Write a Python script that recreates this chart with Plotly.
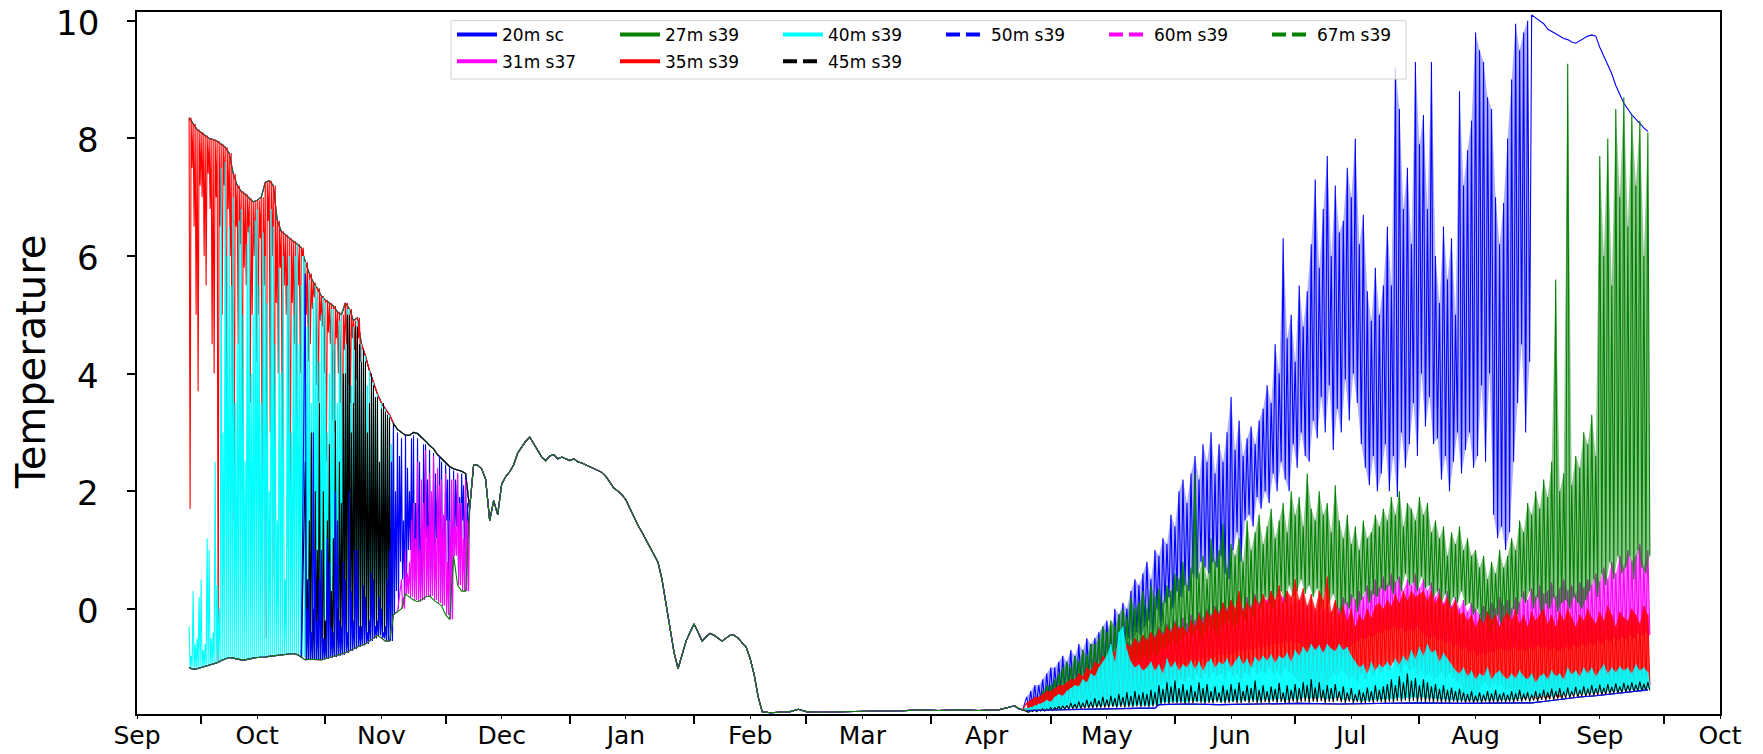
import pandas as pd
import plotly.graph_objects as go

START = pd.Timestamp("2018-09-01")

# ---------------- data (day offsets from 2018-09-01) ----------------
# Autumn envelopes, daily, days 13..82
fall_top = [8.35, 8.25, 8.15, 8.10, 8.05, 8.00, 7.98, 7.95, 7.90, 7.85,
            7.75, 7.40, 7.20, 7.10, 7.05, 6.98, 6.92, 6.95, 7.00, 7.25,
            7.28, 7.20, 6.60, 6.42, 6.36, 6.30, 6.25, 6.20, 6.14, 5.90,
            5.70, 5.55, 5.45, 5.32, 5.25, 5.20, 5.15, 5.05, 5.00, 5.20,
            5.10, 4.90, 4.95, 4.50, 4.30, 4.05, 3.85, 3.65, 3.50, 3.40,
            3.30, 3.15, 3.05, 3.00, 2.95, 2.95, 3.00, 2.98, 2.92, 2.85,
            2.78, 2.72, 2.62, 2.55, 2.48, 2.42, 2.38, 2.36, 2.34, 2.30]
fall_bottom = [-1.00, -1.03, -1.02, -1.00, -0.98, -0.96, -0.94, -0.92, -0.88, -0.85,
               -0.83, -0.84, -0.86, -0.87, -0.87, -0.85, -0.84, -0.83, -0.83, -0.82,
               -0.81, -0.80, -0.80, -0.79, -0.78, -0.77, -0.76, -0.78, -0.82, -0.87,
               -0.86, -0.86, -0.87, -0.87, -0.85, -0.83, -0.82, -0.80, -0.78, -0.75,
               -0.72, -0.68, -0.65, -0.62, -0.60, -0.55, -0.50, -0.45, -0.50, -0.55,
               -0.55, -0.10, -0.05, 0.00, 0.25, 0.20, 0.15, 0.12, 0.15, 0.20,
               0.22, 0.15, 0.10, 0.05, -0.10, -0.18, 0.90, 0.40, 0.30, 0.30]

# autumn excursions, two per day
red_fall_lo = [1.7, 7.5, 6.5, 5.0, 3.7, 7.2, 7.0, 6.0, 5.5, 7.4,
               6.8, 4.5, 4.0, 7.0, -0.9, 6.5, 5.0, 7.2, 3.0, 6.8,
               6.0, 2.0, 1.5, 6.5, 4.5, 6.2, 2.0, 5.8, 5.5, 6.4,
               3.5, 5.0, 6.0, 4.2, 5.0, 6.3, 1.0, 5.5, -0.5, 6.6,
               3.0, 6.0, 0.5, 5.2, 4.0, 5.8, 2.5, 5.5, 5.0, 1.0,
               1.5, 5.2, 4.5, 3.0, 5.5, 4.0, 6.0, 5.0, 5.0, 4.2,
               4.5, 5.1, 5.3, 3.8, 3.5, 4.9, 4.8, 4.0, 2.5, 4.7,
               4.5, 3.2, 3.0, 4.6, 4.0, 3.5, 2.0, 4.4, 4.5, 3.8,
               3.5, 4.6, 4.4, 3.9, 4.6, 4.2]                       # days 13..55
cyan_fall_hi = [-0.3, -0.8, 0.3, -0.6, -0.5, 0.2, 0.5, -0.7, -0.6, 1.2,
                1.0, -0.5, -0.4, 2.5, 0.4, 0.0, 7.5, 3.0, 7.6, 6.0,
                6.5, 5.5, 7.0, 3.5, 4.5, 6.6, 6.8, 5.0, 2.5, 6.2,
                6.5, 4.0, 5.0, 6.6, 6.8, 5.5, 3.5, 6.4, 6.0, 5.2,
                2.0, 6.8, 6.5, 4.5, 1.5, 5.8, 4.0, 6.0, 0.5, 5.5,
                6.0, 3.0, 5.0, 6.0, 6.2, 4.5, 5.5, 6.0, 5.9, 4.8,
                5.6, 3.5, 5.2, 5.5, 5.4, 4.2, 5.0, 5.3, 5.2, 3.0,
                4.0, 5.1, 5.1, 4.5, 3.5, 4.9, 5.0, 4.0, 4.5, 5.1,
                5.1, 3.8, 4.8, 4.5, 4.9, 4.2, 4.5, 3.0, 4.3, 3.8,
                4.05, 2.5, 3.85, 3.5, 3.65, 2.0, 3.5, 3.2, 3.4, 1.5,
                3.3, 2.8]                                           # days 13..63
black_fall_hi = [2.5, 0.5, 1.5, 3.0, 0.0, 2.0, 1.0, 3.5, 0.5, 2.0,
                 -0.2, 1.5, 2.8, 0.3, 1.2, 3.2, 0.0, 2.5, 1.8, 4.0,
                 4.0, 5.0, 5.0, 3.0, 3.5, 4.8, 4.8, 4.5, 4.2, 4.4,
                 4.2, 3.0, 3.5, 4.0, 3.8, 3.6, 3.6, 2.5, 3.4, 3.5,
                 3.35, 3.3, 3.25, 2.0]                              # days 42..63
blue50_fall_hi = [5.7, 0.0, 0.5, -0.4, 3.0, 1.0, -0.2, 0.5, 1.0, -0.5,
                  -0.5, 1.2, 0.8, -0.3, -0.4, 2.0, 1.5, -0.2, -0.3, 0.8,
                  0.5, -0.4, 2.0, 0.3, -0.2, 1.0, 1.0, -0.3, -0.3, 0.4,
                  0.2, -0.4, -0.2, 0.6, 0.5, -0.3, -0.2, 0.2, 0.0, -0.4,
                  -0.3, 0.5, 1.0, 2.5, 3.1, 2.0, 3.0, 2.6, 2.9, 1.5,
                  2.95, 2.4, 2.0, 2.9, 2.95, 1.8, 2.9, 2.5, 1.5, 2.8,
                  2.8, 2.2, 2.7, 1.9, 2.65, 2.3, 2.0, 2.6, 2.5, 1.6,
                  2.45, 2.2, 2.4, 1.5, 2.35, 2.2, 2.3, 1.9, 2.3, 2.1,
                  2.25, 1.8]                                        # days 42..82
blue50_late_lo = [-0.1, 0.3, 0.0, 0.8, 0.5, 0.1, 0.25, 1.0, 1.0, 0.3,
                  0.2, 0.6, 0.4, 0.15, 0.15, 1.1, 1.2, 0.3, 0.2, 0.5,
                  0.3, 1.2, 0.8, 0.1, 0.05, 0.7, 1.5, -0.1, -0.18, 0.6,
                  0.9, 1.4, 0.5, 1.0, 1.5, 0.4, 0.3, 1.2]           # days 64..82
mag60_fall_hi = [0.5, 0.2, 1.0, 0.6, 0.8, 1.5, 1.8, 1.2, 2.5, 1.0,
                 2.2, 1.8, 2.7, 1.4, 2.3, 2.0, 2.6, 1.2, 2.4, 2.1,
                 2.2, 1.6, 2.3, 0.8, 1.5, 2.2, 2.2, 1.4, 2.3, 1.8,
                 1.8, 1.2, 2.2, 1.5]                                # days 66..82

# winter, all sensors together
winter_days = list(range(83, 157))
winter_vals = [1.70, 2.45, 2.44, 2.38, 2.20, 1.50, 1.84, 1.60, 2.12, 2.25,
               2.33, 2.45, 2.65, 2.75, 2.85, 2.92, 2.80, 2.70, 2.58, 2.52,
               2.60, 2.62, 2.55, 2.58, 2.55, 2.52, 2.55, 2.50, 2.48, 2.45,
               2.42, 2.38, 2.35, 2.32, 2.25, 2.15, 2.05, 2.00, 1.94, 1.85,
               1.70, 1.55, 1.42, 1.30, 1.17, 1.05, 0.92, 0.79, 0.50, 0.10,
               -0.30, -0.74, -1.02, -0.80, -0.55, -0.40, -0.26, -0.40, -0.55, -0.48,
               -0.42, -0.45, -0.50, -0.55, -0.50, -0.45, -0.45, -0.50, -0.58, -0.65,
               -0.85, -1.12, -1.50, -1.75]
floor_days = [158, 160, 163, 165, 167, 170, 175, 180, 185, 190, 195, 200, 205, 210, 215, 219, 220, 221]
floor_vals = [-1.77, -1.76, -1.75, -1.71, -1.75, -1.76, -1.75, -1.75, -1.74, -1.74,
              -1.72, -1.73, -1.72, -1.73, -1.72, -1.65, -1.70, -1.72]

# summer, daily highs / lows from day 222
blue20_hi = [-1.5, -1.4, -1.3, -1.3, -1.2, -1.1, -1.0, -1.0, -0.9, -0.8,
             -0.9, -0.7, -0.8, -0.6, -0.7, -0.5, -0.6, -0.5, -0.4, -0.3,
             -0.2, -0.4, 0.0, -0.1, 0.1, 0.0, 0.3, 0.5, 0.4, 0.6,
             0.8, 0.5, 1.0, 0.9, 1.2, 1.1, 1.6, 1.4, 2.0, 2.2,
             1.8, 2.3, 2.6, 2.2, 2.8, 2.5, 3.0, 2.3, 2.8, 2.5,
             3.0, 3.6, 2.7, 3.2, 2.6, 2.9, 3.1, 2.8, 3.2, 3.4,
             3.8, 3.5, 4.5, 4.0, 6.3, 4.6, 5.0, 4.2, 5.5, 4.8,
             5.4, 6.2, 7.3, 5.8, 6.8, 7.7, 6.0, 7.2, 6.4, 6.6,
             7.5, 7.0, 8.0, 6.2, 6.7, 5.4, 4.9, 5.8, 5.0, 5.5,
             6.5, 5.5, 9.2, 8.5, 6.8, 7.5, 6.2, 9.3, 7.9, 8.4,
             6.8, 9.3, 6.0, 5.2, 6.5, 5.6, 6.3, 5.0, 8.8, 7.2,
             7.8, 8.3, 9.8, 9.5, 9.3, 8.7, 8.5, 7.0, 6.2, 6.9,
             8.0, 9.0, 9.95, 9.5, 9.8, 10.0]
blue20_lo = [-1.7, -1.65, -1.6, -1.55, -1.6, -1.5, -1.45, -1.4, -1.4, -1.35,
             -1.3, -1.35, -1.25, -1.2, -1.25, -1.15, -1.2, -1.1, -1.05, -1.0,
             -0.95, -1.0, -0.9, -0.8, -0.6, -0.5, -0.55, -0.4, -0.45, -0.3,
             -0.2, -0.6, 0.0, -0.3, 0.1, 0.2, 0.0, 0.3, 0.2, 0.4,
             0.3, 0.6, 0.5, 0.8, 0.7, 0.6, 0.8, 0.7, 0.9, 0.6,
             0.5, 1.0, 1.3, 0.8, 1.5, 1.6, 1.4, 1.9, 1.7, 2.0,
             1.8, 2.3, 2.0, 2.5, 2.2, 2.0, 2.8, 2.4, 3.0, 2.6,
             2.5, 3.2, 2.9, 3.6, 3.0, 3.8, 2.7, 3.4, 3.0, 3.9,
             3.2, 4.0, 3.5, 2.8, 2.4, 2.1, 2.6, 2.0, 2.3, 2.8,
             2.0, 2.6, 1.9, 3.0, 2.4, 2.8, 3.5, 2.6, 4.0, 3.1,
             3.6, 2.8, 2.9, 2.2, 2.6, 2.0, 2.5, 3.0, 2.3, 2.7,
             3.0, 2.4, 2.6, 3.8, 2.5, 4.0, 1.6, 1.2, 1.4, 1.0,
             1.3, 2.5, 3.5, 4.5, 3.0, 4.2]
blue20_tail_days = list(range(348, 378))
blue20_tail = [10.1, 10.05, 10.0, 9.95, 9.86, 9.82, 9.78, 9.74, 9.7, 9.68,
               9.64, 9.62, 9.66, 9.7, 9.74, 9.76, 9.74, 9.55, 9.4, 9.27,
               9.1, 8.9, 8.75, 8.6, 8.5, 8.4, 8.33, 8.25, 8.18, 8.12]

green27_hi = [-1.7, -1.6, -1.5, -1.5, -1.4, -1.3, -1.3, -1.2, -1.1, -1.0,
              -0.9, -1.0, -0.8, -0.9, -0.7, -0.8, -0.6, -0.6, -0.5, -0.3,
              -0.4, -0.2, -0.3, -0.1, 0.0, -0.15, 0.2, 0.0, 0.1, 0.3,
              0.0, 0.4, 0.2, 0.35, 0.1, 0.4, 0.3, 0.6, 0.5, 0.8,
              0.4, 0.7, 2.3, 0.6, 0.9, 0.5, 1.2, 0.8, 1.0, 1.45,
              0.7, 1.1, 0.9, 1.2, 0.8, 1.5, 1.0, 1.3, 1.6, 1.1,
              1.4, 1.7, 1.2, 1.5, 1.8, 1.3, 2.0, 1.6, 1.9, 1.4,
              2.3, 1.7, 1.5, 2.0, 1.6, 1.8, 1.3, 2.1, 1.5, 1.2,
              1.6, 1.1, 1.4, 1.0, 1.5, 1.2, 1.3, 1.6, 1.4, 1.7,
              1.5, 1.9, 1.6, 2.0, 1.4, 1.8, 1.7, 1.5, 1.9, 1.6,
              1.8, 1.3, 1.5, 1.2, 1.4, 0.9, 1.3, 1.1, 1.4, 1.0,
              1.2, 0.9, 1.0, 0.7, 0.9, 0.5, 0.8, 0.6, 1.0, 0.7,
              0.9, 1.2, 1.0, 1.5, 1.3, 1.8, 1.6, 2.0, 1.7, 2.2,
              1.9, 2.5, 5.6, 2.0, 2.3, 9.27, 2.1, 2.6, 2.4, 3.0,
              2.8, 3.3, 2.6, 7.7, 6.0, 8.0, 5.5, 8.5, 7.0, 8.7,
              6.5, 8.4, 7.2, 8.3, 6.0, 8.1]
green27_lo = [-1.72, -1.7, -1.68, -1.65, -1.62, -1.6, -1.55, -1.55, -1.5, -1.45,
              -1.4, -1.42, -1.35, -1.3, -1.32, -1.25, -1.2, -1.22, -1.15, -1.1,
              -1.05, -1.1, -1.0, -0.95, -1.0, -0.9, -0.95, -0.85, -0.9, -0.8,
              -0.85, -0.75, -0.8, -0.7, -0.65, -0.6, -0.55, -0.6, -0.5, -0.45,
              -0.4, -0.45, -0.35, -0.5, -0.4, -0.3, -0.35, -0.45, -0.3, -0.25,
              -0.2, -0.3, -0.25, -0.1, -0.2, 0.0, -0.15, 0.1, 0.0, 0.2,
              0.1, 0.0, 0.2, 0.3, 0.1, 0.4, 0.2, 0.3, 0.5, 0.25,
              0.4, 0.2, 0.35, 0.0, 0.3, 0.1, 0.25, 0.0, -0.1, 0.1,
              0.0, 0.2, -0.05, 0.15, 0.3, 0.1, 0.25, 0.2, 0.35, 0.3,
              0.4, 0.25, 0.5, 0.3, 0.6, 0.4, 0.45, 0.3, 0.55, 0.35,
              0.4, 0.2, 0.3, 0.1, 0.25, 0.0, 0.2, 0.1, 0.3, 0.05,
              0.1, -0.1, 0.0, -0.3, -0.2, -0.4, -0.25, -0.1, -0.3, -0.15,
              -0.2, 0.0, -0.1, 0.2, 0.1, 0.3, 0.0, 0.2, -0.1, 0.1,
              0.0, 0.2, -0.05, 0.1, 0.15, 0.0, 0.2, 0.1, 0.0, 0.15,
              0.3, 0.5, 0.2, 0.6, 0.4, 0.8, 0.5, 0.9, 0.6, 0.7,
              0.9, 0.5, 1.0, 0.7, 0.6, 0.9]

mag31_hi = [-1.7, -1.65, -1.6, -1.55, -1.5, -1.5, -1.45, -1.4, -1.3, -1.35,
            -1.25, -1.3, -1.2, -1.1, -1.15, -1.0, -1.05, -0.9, -0.95, -0.8,
            -0.85, -0.7, -0.75, -0.6, -0.7, -0.55, -0.6, -0.5, -0.55, -0.45,
            -0.5, -0.4, -0.45, -0.3, -0.4, -0.25, -0.35, -0.2, -0.3, -0.15,
            -0.25, -0.1, -0.2, -0.05, -0.15, 0.0, -0.1, 0.05, -0.05, 0.1,
            0.0, 0.15, -0.05, 0.1, 0.0, 0.2, 0.05, 0.25, 0.1, 0.2,
            0.15, 0.3, 0.1, 0.25, 0.2, 0.3, 0.05, 0.2, 0.1, 0.25,
            0.0, 0.15, -0.1, 0.1, -0.05, 0.05, -0.15, 0.1, 0.0, 0.2,
            0.1, 0.25, 0.15, 0.3, 0.2, 0.4, 0.3, 0.5, 0.35, 0.55,
            0.4, 0.6, 0.45, 0.55, 0.3, 0.5, 0.4, 0.6, 0.35, 0.5,
            0.3, 0.45, 0.2, 0.35, 0.1, 0.3, 0.05, 0.2, 0.0, 0.15,
            -0.05, 0.1, 0.0, -0.1, 0.05, -0.05, 0.1, 0.0, 0.2, 0.05,
            0.15, 0.0, 0.2, 0.1, 0.3, 0.15, 0.35, 0.2, 0.4, 0.25,
            0.3, 0.45, 0.2, 0.35, 0.5, 0.3, 0.4, 0.25, 0.45, 0.35,
            0.5, 0.4, 0.6, 0.45, 0.7, 0.5, 0.8, 0.6, 0.9, 0.7,
            1.0, 0.8, 0.9, 1.1, 0.7, 1.0]
mag31_lo = [-1.72, -1.72, -1.7, -1.7, -1.68, -1.68, -1.66, -1.65, -1.62, -1.6,
            -1.58, -1.55, -1.52, -1.5, -1.48, -1.45, -1.42, -1.4, -1.38, -1.35,
            -1.32, -1.3, -1.28, -1.3, -1.25, -1.22, -1.2, -1.18, -1.15, -1.12,
            -1.1, -1.12, -1.08, -1.05, -1.0, -1.02, -0.98, -0.95, -0.92, -0.95,
            -0.9, -0.92, -0.88, -0.85, -0.9, -0.82, -0.85, -0.8, -0.78, -0.8,
            -0.75, -0.8, -0.72, -0.7, -0.75, -0.68, -0.7, -0.65, -0.68, -0.62,
            -0.65, -0.6, -0.62, -0.58, -0.6, -0.55, -0.6, -0.58, -0.62, -0.65,
            -0.7, -0.68, -0.75, -0.72, -0.8, -0.75, -0.82, -0.78, -0.75, -0.7,
            -0.65, -0.6, -0.55, -0.5, -0.52, -0.45, -0.48, -0.4, -0.42, -0.35,
            -0.38, -0.3, -0.35, -0.32, -0.4, -0.35, -0.38, -0.3, -0.4, -0.45,
            -0.5, -0.45, -0.55, -0.5, -0.6, -0.55, -0.65, -0.6, -0.7, -0.65,
            -0.75, -0.7, -0.8, -0.75, -0.78, -0.72, -0.75, -0.7, -0.68, -0.72,
            -0.7, -0.65, -0.7, -0.68, -0.72, -0.65, -0.7, -0.62, -0.68, -0.65,
            -0.7, -0.66, -0.72, -0.68, -0.65, -0.7, -0.62, -0.66, -0.6, -0.64,
            -0.58, -0.62, -0.55, -0.6, -0.52, -0.56, -0.5, -0.55, -0.48, -0.52,
            -0.45, -0.5, -0.42, -0.46, -0.4, -0.45]

red35_hi = [-1.6, -1.55, -1.5, -1.5, -1.45, -1.4, -1.4, -1.35, -1.3, -1.3,
            -1.25, -1.2, -1.2, -1.1, -1.15, -1.0, -1.05, -0.9, -0.95, -0.8,
            -0.85, -0.7, -0.75, -0.5, -0.7, -0.6, -0.65, -0.5, -0.6, -0.45,
            -0.55, -0.4, -0.5, -0.35, -0.45, -0.3, -0.4, -0.25, -0.35, -0.3,
            -0.4, -0.2, -0.3, -0.1, -0.25, -0.05, -0.15, 0.0, -0.1, 0.1,
            -0.05, 0.15, 0.0, 0.3, -0.05, 0.1, 0.0, 0.2, 0.05, 0.25,
            0.1, 0.3, 0.15, 0.4, 0.1, 0.3, 0.2, 0.5, 0.15, 0.35,
            0.05, 0.25, 0.0, 0.3, 0.15, 0.55, -0.05, 0.15, -0.1, 0.05,
            -0.2, 0.0, -0.3, -0.1, -0.2, 0.0, -0.15, 0.05, 0.1, 0.0,
            0.15, 0.05, 0.25, 0.1, 0.3, 0.15, 0.3, 0.2, 0.25, 0.3,
            0.15, 0.3, 0.1, 0.25, 0.05, 0.2, 0.0, 0.15, -0.1, -0.05,
            -0.2, -0.1, -0.3, -0.15, -0.25, -0.05, -0.2, -0.1, -0.3, -0.15,
            -0.05, -0.2, 0.0, -0.25, -0.1, -0.3, -0.05, -0.2, -0.1, 0.0,
            -0.25, -0.1, -0.3, -0.05, -0.2, 0.0, -0.15, -0.3, -0.1, -0.2,
            0.0, -0.15, -0.25, -0.05, -0.2, 0.05, -0.1, -0.3, -0.05, -0.15,
            -0.2, 0.0, -0.1, -0.25, 0.05, -0.1]
red35_lo = [-1.72, -1.7, -1.7, -1.68, -1.68, -1.66, -1.66, -1.64, -1.65, -1.62,
            -1.63, -1.6, -1.62, -1.58, -1.6, -1.55, -1.58, -1.52, -1.55, -1.5,
            -1.53, -1.48, -1.5, -1.46, -1.5, -1.45, -1.48, -1.44, -1.5, -1.45,
            -1.48, -1.42, -1.46, -1.3, -1.25, -1.3, -1.2, -1.28, -1.18, -1.25,
            -1.15, -1.22, -1.12, -1.2, -1.1, -1.18, -1.08, -1.15, -1.1, -1.2,
            -1.05, -1.15, -1.1, -1.2, -1.08, -1.15, -1.0, -1.12, -1.05, -1.1,
            -1.0, -1.1, -1.05, -1.15, -1.0, -1.08, -1.12, -1.2, -1.3, -1.5,
            -1.45, -1.55, -1.5, -1.45, -1.52, -1.2, -1.1, -1.15, -1.05, -1.1,
            -1.2, -1.15, -1.25, -1.1, -1.2, -1.05, -1.15, -1.0, -1.1, -0.95,
            -1.05, -0.9, -1.0, -1.1, -0.95, -1.05, -1.0, -1.12, -1.05, -1.15,
            -1.1, -1.2, -1.15, -1.08, -1.2, -1.1, -1.18, -1.25, -1.3, -1.5,
            -1.45, -1.52, -1.48, -1.3, -1.25, -1.35, -1.28, -1.32, -1.3, -1.38,
            -1.35, -1.4, -1.5, -1.48, -1.52, -1.45, -1.5, -1.55, -1.48, -1.52,
            -1.5, -1.45, -1.52, -1.48, -1.4, -1.38, -1.42, -1.35, -1.4, -1.36,
            -1.38, -1.32, -1.36, -1.3, -1.34, -1.3, -1.35, -1.28, -1.32, -1.3,
            -1.28, -1.32, -1.26, -1.3, -1.25, -1.3]

cyan40_hi = [-1.7, -1.68, -1.65, -1.62, -1.6, -1.55, -1.58, -1.5, -1.45, -1.48,
             -1.4, -1.35, -1.3, -1.32, -1.2, -1.25, -1.1, -1.15, -1.0, -0.9,
             -0.8, -0.6, -0.9, -0.4, -0.3, -0.7, -0.9, -1.0, -0.95, -1.05,
             -1.0, -0.9, -1.05, -0.95, -1.1, -0.85, -1.0, -0.9, -1.05, -0.95,
             -1.0, -0.88, -1.02, -0.9, -1.05, -0.92, -0.85, -1.0, -0.9, -0.95,
             -0.85, -1.0, -0.9, -0.8, -0.95, -0.85, -1.0, -0.82, -0.9, -0.8,
             -0.88, -0.78, -0.92, -0.8, -0.85, -0.75, -0.9, -0.7, -0.8, -0.65,
             -0.75, -0.6, -0.7, -0.62, -0.75, -0.6, -0.68, -0.72, -0.6, -0.7,
             -0.65, -0.8, -0.9, -1.0, -0.95, -1.1, -0.9, -1.05, -0.95, -1.0,
             -0.9, -1.0, -0.85, -0.95, -0.8, -0.9, -0.7, -0.85, -0.65, -0.8,
             -0.6, -0.75, -0.7, -0.9, -0.75, -0.85, -0.95, -1.05, -1.1, -1.0,
             -1.15, -1.05, -1.2, -1.1, -1.15, -1.0, -1.2, -1.1, -1.05, -1.15,
             -1.2, -1.1, -1.18, -1.05, -1.15, -1.2, -1.1, -1.25, -1.15, -1.1,
             -1.2, -1.05, -1.15, -1.1, -1.2, -1.0, -1.12, -1.05, -1.15, -1.0,
             -1.1, -1.0, -1.15, -1.05, -0.95, -1.1, -1.0, -1.08, -0.98, -1.05,
             -1.0, -1.1, -0.95, -1.05, -1.0, -1.08]
cyan40_lo = [-1.75, -1.74, -1.73, -1.73, -1.72, -1.72, -1.71, -1.7, -1.7, -1.69,
             -1.69, -1.68, -1.68, -1.67, -1.67, -1.66, -1.66, -1.65, -1.66, -1.64,
             -1.65, -1.64, -1.66, -1.63, -1.65, -1.64, -1.66, -1.63, -1.65, -1.64,
             -1.66, -1.62, -1.64, -1.6, -1.58, -1.6, -1.57, -1.59, -1.56, -1.6,
             -1.57, -1.55, -1.58, -1.56, -1.59, -1.55, -1.57, -1.54, -1.58, -1.56,
             -1.55, -1.58, -1.54, -1.57, -1.55, -1.56, -1.53, -1.57, -1.55, -1.54,
             -1.56, -1.53, -1.55, -1.52, -1.56, -1.54, -1.52, -1.55, -1.53, -1.5,
             -1.54, -1.51, -1.53, -1.5, -1.55, -1.52, -1.54, -1.5, -1.53, -1.55,
             -1.52, -1.56, -1.54, -1.58, -1.55, -1.57, -1.54, -1.56, -1.53, -1.55,
             -1.52, -1.55, -1.5, -1.54, -1.51, -1.53, -1.5, -1.52, -1.49, -1.53,
             -1.5, -1.54, -1.52, -1.55, -1.53, -1.56, -1.54, -1.57, -1.55, -1.56,
             -1.54, -1.57, -1.55, -1.56, -1.54, -1.55, -1.53, -1.56, -1.54, -1.55,
             -1.53, -1.55, -1.52, -1.54, -1.5, -1.53, -1.49, -1.52, -1.48, -1.5,
             -1.47, -1.5, -1.46, -1.48, -1.45, -1.47, -1.44, -1.46, -1.43, -1.45,
             -1.42, -1.44, -1.41, -1.43, -1.4, -1.42, -1.39, -1.41, -1.38, -1.4,
             -1.37, -1.39, -1.36, -1.38, -1.35, -1.37]

black45_hi = [-1.74, -1.73, -1.72, -1.72, -1.7, -1.7, -1.68, -1.68, -1.66, -1.65,
              -1.64, -1.6, -1.62, -1.58, -1.6, -1.55, -1.58, -1.52, -1.56, -1.5,
              -1.54, -1.48, -1.52, -1.45, -1.5, -1.42, -1.48, -1.4, -1.46, -1.42,
              -1.45, -1.38, -1.42, -1.3, -1.36, -1.25, -1.32, -1.22, -1.35, -1.28,
              -1.38, -1.3, -1.4, -1.25, -1.35, -1.28, -1.4, -1.32, -1.42, -1.3,
              -1.38, -1.28, -1.36, -1.25, -1.4, -1.3, -1.35, -1.22, -1.38, -1.3,
              -1.4, -1.32, -1.36, -1.26, -1.42, -1.3, -1.38, -1.28, -1.35, -1.25,
              -1.3, -1.2, -1.34, -1.25, -1.38, -1.3, -1.35, -1.28, -1.4, -1.32,
              -1.42, -1.35, -1.45, -1.38, -1.42, -1.34, -1.4, -1.3, -1.38, -1.32,
              -1.28, -1.2, -1.3, -1.15, -1.25, -1.1, -1.22, -1.18, -1.3, -1.2,
              -1.25, -1.32, -1.28, -1.36, -1.3, -1.38, -1.34, -1.4, -1.36, -1.42,
              -1.45, -1.4, -1.48, -1.42, -1.46, -1.4, -1.44, -1.38, -1.45, -1.42,
              -1.46, -1.4, -1.44, -1.38, -1.45, -1.42, -1.46, -1.4, -1.44, -1.38,
              -1.42, -1.36, -1.4, -1.35, -1.41, -1.34, -1.4, -1.33, -1.38, -1.32,
              -1.36, -1.3, -1.35, -1.29, -1.34, -1.28, -1.33, -1.27, -1.32, -1.26,
              -1.3, -1.25, -1.29, -1.24, -1.28, -1.25]
black45_lo = [-1.76, -1.75, -1.75, -1.74, -1.74, -1.73, -1.73, -1.72, -1.72, -1.71,
              -1.71, -1.7, -1.7, -1.7, -1.69, -1.69, -1.69, -1.68, -1.68, -1.68,
              -1.68, -1.67, -1.68, -1.67, -1.68, -1.67, -1.67, -1.66, -1.67, -1.66,
              -1.67, -1.66, -1.66, -1.62, -1.61, -1.62, -1.6, -1.61, -1.6, -1.62,
              -1.6, -1.61, -1.59, -1.6, -1.62, -1.6, -1.61, -1.59, -1.6, -1.61,
              -1.6, -1.59, -1.61, -1.6, -1.58, -1.6, -1.59, -1.61, -1.6, -1.59,
              -1.6, -1.58, -1.6, -1.59, -1.61, -1.6, -1.58, -1.6, -1.59, -1.58,
              -1.6, -1.58, -1.59, -1.57, -1.6, -1.58, -1.59, -1.57, -1.59, -1.6,
              -1.58, -1.6, -1.59, -1.61, -1.6, -1.59, -1.6, -1.58, -1.59, -1.6,
              -1.58, -1.59, -1.57, -1.58, -1.56, -1.58, -1.57, -1.59, -1.58, -1.6,
              -1.58, -1.59, -1.58, -1.6, -1.59, -1.6, -1.58, -1.6, -1.59, -1.6,
              -1.59, -1.6, -1.59, -1.6, -1.58, -1.6, -1.59, -1.6, -1.58, -1.59,
              -1.58, -1.59, -1.57, -1.58, -1.56, -1.58, -1.56, -1.57, -1.55, -1.56,
              -1.54, -1.55, -1.53, -1.54, -1.52, -1.52, -1.5, -1.51, -1.49, -1.5,
              -1.48, -1.48, -1.47, -1.47, -1.46, -1.45, -1.44, -1.44, -1.43, -1.42,
              -1.41, -1.41, -1.4, -1.4, -1.39, -1.39]

deep_days = [222, 228, 235, 242, 250, 254, 255, 262, 270, 280, 290, 300, 310,
             320, 330, 340, 348, 352, 356, 360, 364, 368, 372, 375, 377]
deep_vals = [-1.73, -1.72, -1.71, -1.70, -1.69, -1.69, -1.63, -1.62, -1.63, -1.62, -1.61,
             -1.62, -1.61, -1.60, -1.61, -1.60, -1.60, -1.57, -1.53, -1.50, -1.48,
             -1.45, -1.42, -1.40, -1.38]

month_labels = ["Sep", "Oct", "Nov", "Dec", "Jan", "Feb", "Mar", "Apr",
                "May", "Jun", "Jul", "Aug", "Sep", "Oct"]
tick_days_mid = [16, 47, 77, 108, 139, 167, 198, 228, 259, 289, 320, 350, 381]
y_ticks = [0, 2, 4, 6, 8, 10]

# ---------------- helpers ----------------
FALL0 = 13


def fdays(a, b):
    return list(range(a, b + 1))


def fslice(arr, a, b):
    return arr[a - FALL0:b - FALL0 + 1]


def rep2(arr):
    out = []
    for v in arr:
        out += [v, v]
    return out


def zig(d0, hi, lo, per_day=1):
    step = 1.0 / per_day
    xs, ys = [], []
    for i, (h, l) in enumerate(zip(hi, lo)):
        xs += [d0 + i * step, d0 + i * step + step / 2]
        ys += [h, l]
    return xs, ys


def band(d0, hi, lo):
    n = len(hi)
    xs = [d0 + i for i in range(n)] + [d0 + i + 0.5 for i in range(n)][::-1]
    ys = list(hi) + list(lo)[::-1]
    return xs, ys


def cat(*parts):
    xs, ys = [], []
    for px_, py_ in parts:
        xs += list(px_)
        ys += list(py_)
    return xs, ys


def dates(days):
    return [START + pd.Timedelta(days=float(d)) for d in days]


WIN = (winter_days, winter_vals)
FLOOR = (floor_days, floor_vals)
TOP_ALL = (fdays(13, 82), fall_top)
BOT_ALL = (fdays(13, 82), fall_bottom)

s20 = cat(TOP_ALL, WIN, FLOOR, zig(222, blue20_hi, blue20_lo), (blue20_tail_days, blue20_tail))
s31 = cat(TOP_ALL, WIN, FLOOR, zig(222, mag31_hi, mag31_lo))
s27 = cat(TOP_ALL, WIN, FLOOR, zig(222, green27_hi, green27_lo))
s35 = cat(zig(13, rep2(fslice(fall_top, 13, 55)), red_fall_lo, 2),
          (fdays(56, 82), fslice(fall_top, 56, 82)), WIN, FLOOR, zig(222, red35_hi, red35_lo))
s40 = cat(zig(13, cyan_fall_hi, rep2(fslice(fall_bottom, 13, 63)), 2),
          (fdays(64, 82), fslice(fall_top, 64, 82)), WIN, FLOOR, zig(222, cyan40_hi, cyan40_lo))
s45 = cat((fdays(13, 41), fslice(fall_bottom, 13, 41)),
          zig(42, black_fall_hi, rep2(fslice(fall_bottom, 42, 63)), 2),
          (fdays(64, 82), fslice(fall_top, 64, 82)), WIN, FLOOR, zig(222, black45_hi, black45_lo))
s50a = cat((fdays(13, 41), fslice(fall_bottom, 13, 41)),
           zig(42, blue50_fall_hi, rep2(fslice(fall_bottom, 42, 63)) + blue50_late_lo, 2), WIN, FLOOR)
s50b = (deep_days, deep_vals)
s60 = cat((fdays(13, 65), fslice(fall_bottom, 13, 65)),
          zig(66, mag60_fall_hi, rep2(fslice(fall_bottom, 66, 82)), 2), WIN, FLOOR, (deep_days, deep_vals))
s67 = cat(BOT_ALL, WIN, FLOOR, (deep_days, deep_vals))

BLUE, GREEN, CYAN, MAG, RED, BLACK = "#0000ff", "#008000", "#00ffff", "#ff00ff", "#ff0000", "#000000"
DASH_LEG = "14px,6px"

fig = go.Figure()


def add_band(d0, hi, lo, rgba):
    bx, by = band(d0, hi, lo)
    fig.add_trace(go.Scatter(x=dates(bx), y=by, mode="lines", fill="toself", fillcolor=rgba,
                             line=dict(width=0), showlegend=False, hoverinfo="skip"))


def add_line(s, col, width=1.1):
    xs, ys = s
    fig.add_trace(go.Scatter(x=dates(xs), y=ys, mode="lines", showlegend=False,
                             hoverinfo="skip", line=dict(color=col, width=width)))


add_band(222, blue20_hi, blue20_lo, "rgba(0,0,255,0.32)")
add_line(s20, BLUE)
add_band(222, mag31_hi, mag31_lo, "rgba(255,0,255,0.55)")
add_line(s31, MAG)
add_band(222, green27_hi, green27_lo, "rgba(0,128,0,0.45)")
add_line(s27, GREEN)
add_band(222, red35_hi, red35_lo, "rgba(255,0,0,0.78)")
add_line(s35, RED)
add_band(222, cyan40_hi, cyan40_lo, "rgba(0,255,255,0.85)")
add_line(s40, CYAN)
add_line(s45, BLACK)
add_line(s50a, BLUE)
add_line(s60, MAG)
add_line(s67, GREEN)
add_line(s50b, BLUE)

row1 = [("20m sc", BLUE, "solid"), ("27m s39", GREEN, "solid"), ("40m s39", CYAN, "solid"),
        ("50m s39", BLUE, DASH_LEG), ("60m s39", MAG, DASH_LEG), ("67m s39", GREEN, DASH_LEG)]
row2 = [("31m s37", MAG, "solid"), ("35m s39", RED, "solid"), ("45m s39", BLACK, DASH_LEG)]
for name, col, dsh in row1:
    fig.add_trace(go.Scatter(x=[None], y=[None], mode="lines", name=name, legend="legend",
                             line=dict(color=col, width=4, dash=dsh)))
for name, col, dsh in row2:
    fig.add_trace(go.Scatter(x=[None], y=[None], mode="lines", name=name, legend="legend2",
                             line=dict(color=col, width=4, dash=dsh)))

month_vals = [START + pd.DateOffset(months=i) for i in range(14)]
minor_vals = dates(tick_days_mid)

L, R, T, B = 137, 43, 12, 40
W, H = 1763, 754
pw, ph = W - L - R, H - T - B


def px(x):
    return (x - L) / pw


def py(y):
    return (H - B - y) / ph


leg_common = dict(orientation="h", xanchor="left", yanchor="middle", bgcolor="rgba(0,0,0,0)",
                  borderwidth=0, font=dict(size=17, color="black", family="DejaVu Sans"),
                  entrywidth=108, entrywidthmode="pixels", itemwidth=40, traceorder="normal",
                  xref="container", yref="container")

annotations = [dict(text=str(v), xref="paper", yref="y", x=px(101), y=v, xanchor="right",
                    yanchor="middle", showarrow=False, font=dict(size=34, color="black"), yshift=-2)
               for v in y_ticks]
annotations.append(dict(text="Temperature", xref="paper", yref="paper", x=px(31), y=py(362),
                        xanchor="center", yanchor="middle", textangle=-90, showarrow=False,
                        font=dict(size=40, color="black")))

fig.update_layout(
    width=W, height=H, margin=dict(l=L, r=R, t=T, b=B, autoexpand=False),
    paper_bgcolor="white", plot_bgcolor="white",
    font=dict(family="DejaVu Sans", color="black"),
    legend=dict(x=452 / W, y=1 - 35 / H, **leg_common),
    legend2=dict(x=452 / W, y=1 - 61.7 / H, **leg_common),
    annotations=annotations,
    shapes=[dict(type="rect", xref="paper", yref="paper", x0=px(451), x1=px(1406),
                 y0=py(79), y1=py(20.7), fillcolor="rgba(255,255,255,0.8)",
                 line=dict(color="#d0d0d0", width=1), layer="above")],
    xaxis=dict(type="date", range=[START, START + pd.Timedelta(days=395)],
               tickmode="array", tickvals=month_vals, ticktext=month_labels,
               ticks="outside", ticklen=3, tickwidth=1.2, tickcolor="black",
               tickfont=dict(size=25), showgrid=False, zeroline=False, automargin=False,
               ticklabelstandoff=-5,
               showline=True, linecolor="black", linewidth=1.5, mirror=True,
               minor=dict(tickmode="array", tickvals=minor_vals, ticks="outside", ticklen=8,
                          tickwidth=1.5, tickcolor="black", showgrid=False)),
    yaxis=dict(range=[-1.79, 10.15], tickmode="array", tickvals=y_ticks,
               ticks="outside", ticklen=8, tickwidth=1.5, tickcolor="black",
               showticklabels=False, showgrid=False, zeroline=False,
               showline=True, linecolor="black", linewidth=1.5, mirror=True,
               automargin=False),
)

fig.write_html("out.html", config={"displayModeBar": False},
               post_script="document.body.style.margin='0px';document.body.style.padding='0px';")
